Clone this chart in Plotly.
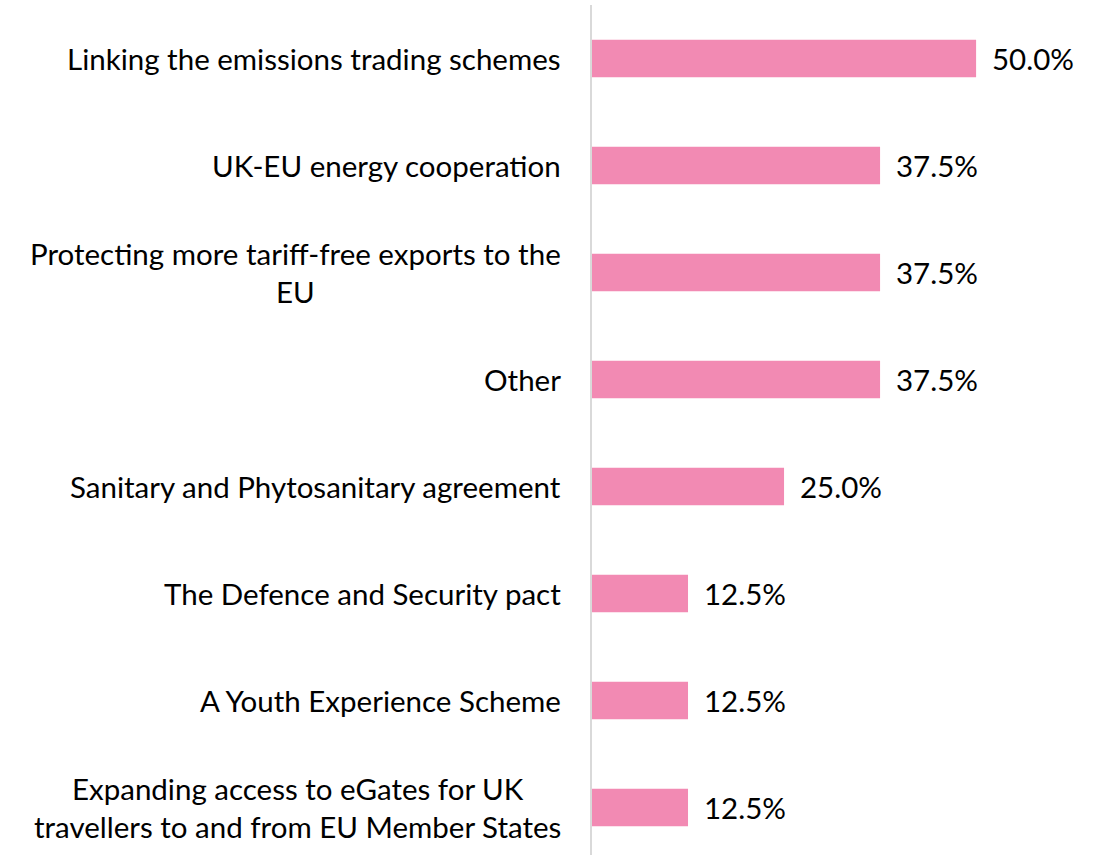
import plotly.graph_objects as go

# Survey categories, top to bottom, with the share of respondents choosing each
categories = [
    "Linking the emissions trading schemes",
    "UK-EU energy cooperation",
    "Protecting more tariff-free exports to the<br>EU",
    "Other",
    "Sanitary and Phytosanitary agreement",
    "The Defence and Security pact",
    "A Youth Experience Scheme",
    "Expanding access to eGates for UK<br>travellers to and from EU Member States",
]
values = [50.0, 37.5, 37.5, 37.5, 25.0, 12.5, 12.5, 12.5]
value_labels = [f"{v:.1f}%" for v in values]

FONT = "Lato, Calibri, Carlito, sans-serif"
BAR = "#F28AB3"
SIZE = 29.5

fig = go.Figure(
    go.Bar(
        x=values,
        y=list(range(len(categories))),
        orientation="h",
        marker=dict(color=BAR, line=dict(width=0)),
        width=0.35,
        hoverinfo="skip",
    )
)

# Category labels as centred multi-line annotations left of the axis
for i, label in enumerate(categories):
    fig.add_annotation(
        x=0, xref="paper", y=i, yref="y",
        text=label, showarrow=False,
        xanchor="right", yanchor="middle", align="center",
        xshift=-29,
        font=dict(family=FONT, size=SIZE, color="#000000"),
    )

# Value labels just past the end of each bar
for i, (v, t) in enumerate(zip(values, value_labels)):
    fig.add_annotation(
        x=v, xref="x", y=i, yref="y",
        text=t, showarrow=False,
        xanchor="left", yanchor="middle",
        xshift=14,
        font=dict(family=FONT, size=SIZE, color="#000000"),
    )

fig.update_layout(
    width=1099, height=855,
    margin=dict(l=592, r=0, t=5, b=0),
    paper_bgcolor="white", plot_bgcolor="white",
    showlegend=False,
    xaxis=dict(range=[0, 66], visible=False, fixedrange=True),
    yaxis=dict(
        range=[7.444, -0.5],
        showticklabels=False, ticks="",
        showgrid=False, zeroline=False,
        showline=True, linecolor="#D9D9D9", linewidth=2,
        fixedrange=True,
    ),
)

fig.write_html("out.html")
